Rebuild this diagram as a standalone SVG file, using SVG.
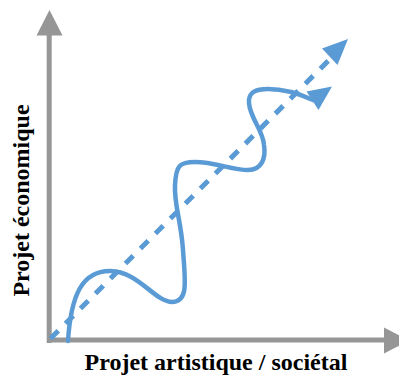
<svg xmlns="http://www.w3.org/2000/svg" width="399" height="376" viewBox="0 0 399 376">
  <style>
    .axis { stroke: #969696; stroke-width: 5; fill: none; }
    .axis-head { fill: #969696; }
    .blue { stroke: #5B9BD5; fill: none; }
    .blue-head { fill: #5B9BD5; }
    .label { font-family: "Liberation Serif", "Times New Roman", serif; font-weight: bold; font-size: 24px; fill: #000; }
  </style>
  <rect width="399" height="376" fill="#ffffff"/>
  <g id="axes">
    <path class="axis" d="M49.2,343 V33 M46.7,340 H387"/>
    <polygon class="axis-head" points="49.5,10 62.5,35.5 36.5,35.5"/>
    <polygon class="axis-head" points="409,340.5 384,327.5 384,353.5"/>
  </g>
  <g id="connectors">
    <g id="trend">
      <path class="blue" stroke-width="5" stroke-dasharray="11 10.2" d="M50.5,338.5 L330,59"/>
      <polygon class="blue-head" points="348,39 322,48.5 337.5,65"/>
    </g>
    <g id="path-curve">
      <path class="blue" stroke-width="4.5" stroke-linecap="round" d="M68,341 C71,295 82,271 110,271 S155,302 172,302 S185,280 183,250 S174,205 175,185 S180,162 195,162 C215,162 232,170 248,170 C262,170 266,158 264,145 C263,130 250,118 249,103 C248,92 256,89 268,89 C285,89 300,94 313,100"/>
      <polygon class="blue-head" points="332,86.5 306.5,91.5 318.5,110"/>
    </g>
  </g>
  <g id="label-x">
    <text class="label" x="216" y="370" text-anchor="middle">Projet artistique / sociétal</text>
  </g>
  <g id="label-y">
    <text class="label" transform="translate(29,200.5) rotate(-90)" text-anchor="middle">Projet économique</text>
  </g>
</svg>
